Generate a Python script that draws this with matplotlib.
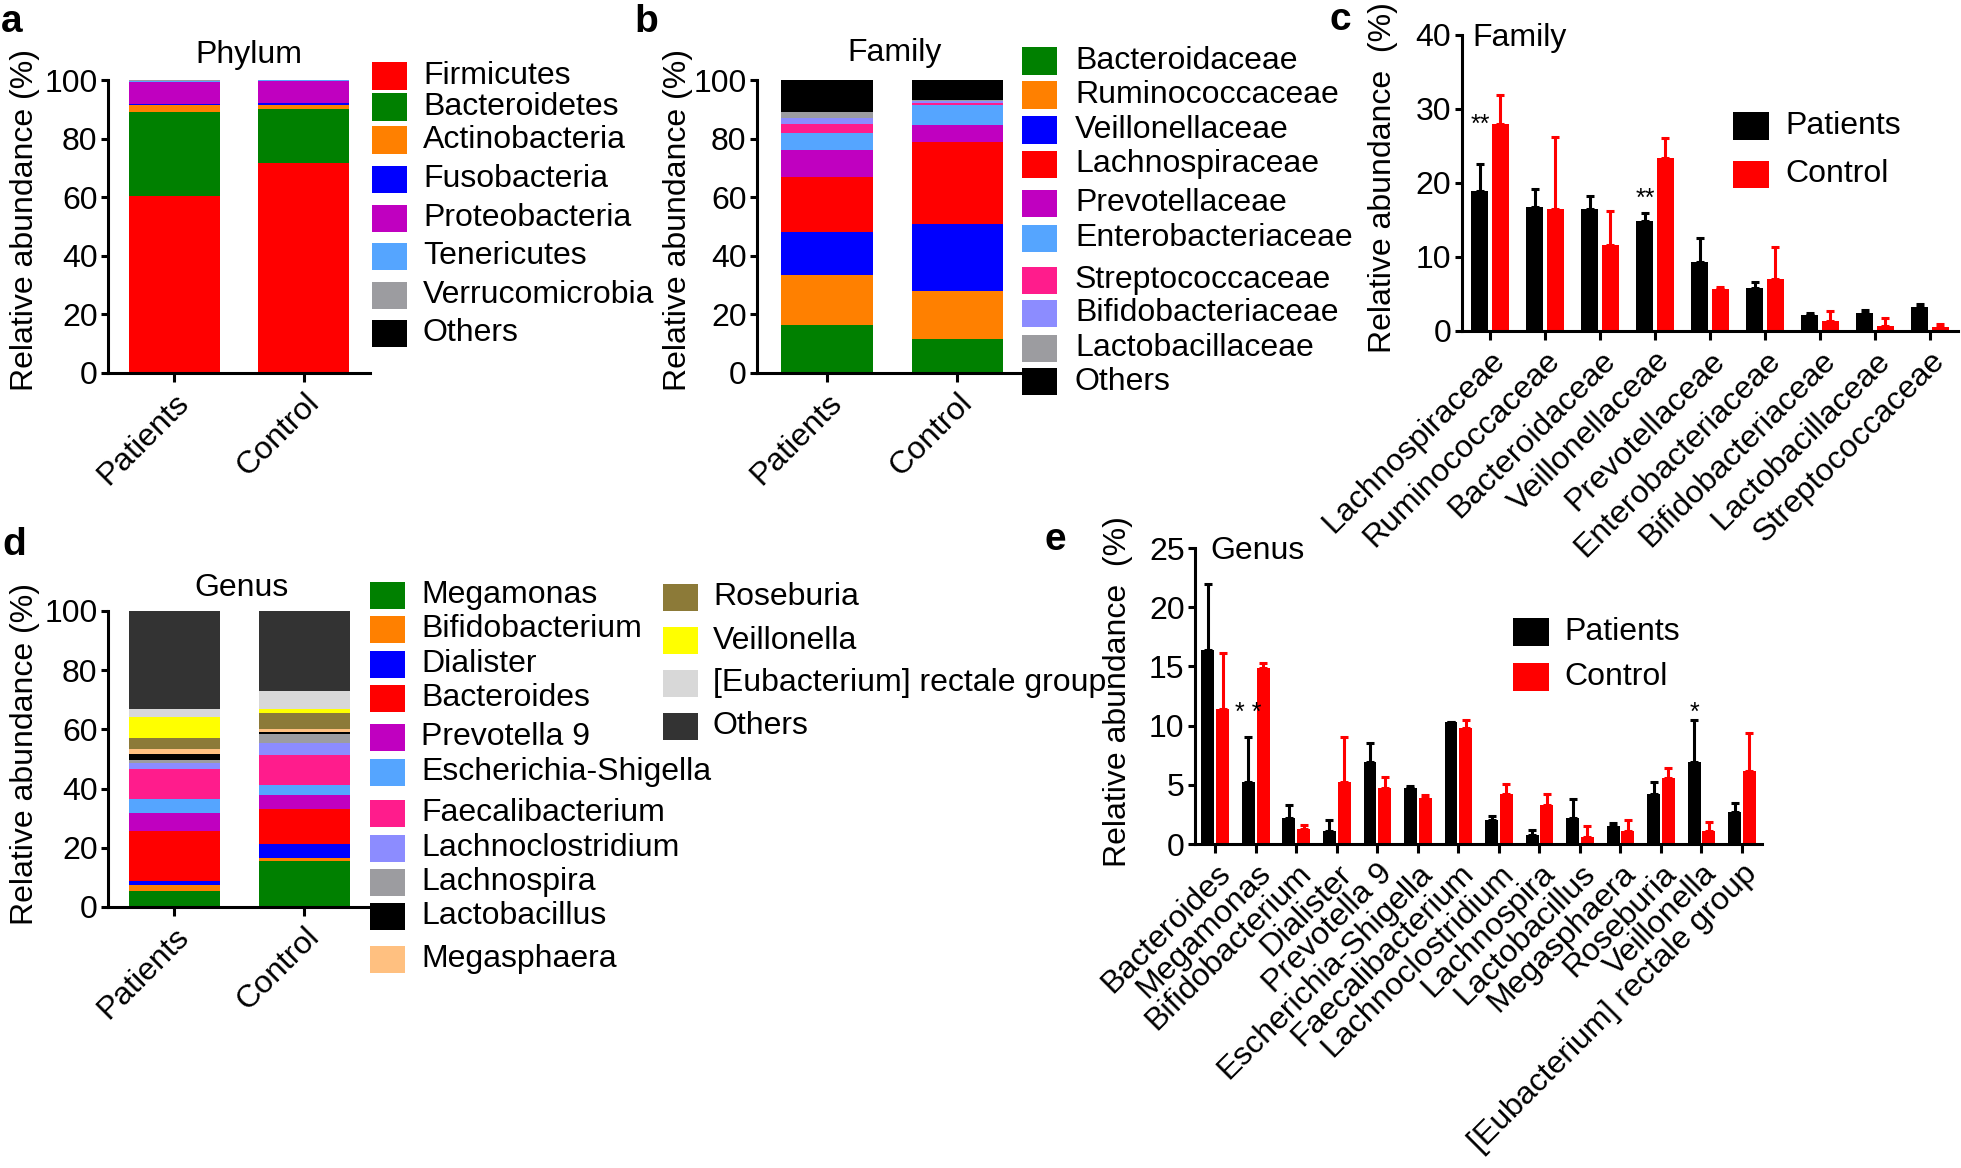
import numpy as np
import matplotlib
matplotlib.use("Agg")
import matplotlib.pyplot as plt
from matplotlib.patches import Rectangle

plt.rcParams['font.family'] = ['Liberation Sans', 'DejaVu Sans']

W, H = 1961, 1168

# ---------------- data ----------------
groups = ["Patients", "Control"]

phylum_names = ["Firmicutes", "Bacteroidetes", "Actinobacteria", "Fusobacteria",
                "Proteobacteria", "Tenericutes", "Verrucomicrobia", "Others"]
phylum_patients = [60.5, 28.5, 2.3, 0.5, 7.6, 0.4, 0.1, 0.1]
phylum_control = [71.8, 18.2, 1.6, 0.5, 7.7, 0.1, 0.05, 0.05]
phylum_colors = ["#FF0000", "#008000", "#FF8000", "#0000FF",
                 "#C000C0", "#55A5FF", "#9C9CA0", "#000000"]

family_names = ["Bacteroidaceae", "Ruminococcaceae", "Veillonellaceae", "Lachnospiraceae",
                "Prevotellaceae", "Enterobacteriaceae", "Streptococcaceae",
                "Bifidobacteriaceae", "Lactobacillaceae", "Others"]
family_patients = [16.5, 17.0, 14.5, 19.0, 9.0, 6.0, 3.0, 2.0, 2.0, 11.0]
family_control = [11.5, 16.5, 23.0, 28.0, 5.5, 7.0, 0.5, 0.7, 0.6, 6.7]
family_colors = ["#008000", "#FF8000", "#0000FF", "#FF0000", "#C000C0",
                 "#55A5FF", "#FF1C8C", "#8C8CFF", "#9C9CA0", "#000000"]

fam_cats = ["Lachnospiraceae", "Ruminococcaceae", "Bacteroidaceae", "Veillonellaceae",
            "Prevotellaceae", "Enterobacteriaceae", "Bifidobacteriaceae",
            "Lactobacillaceae", "Streptococcaceae"]
fam_pat_mean = [18.9, 16.8, 16.5, 14.9, 9.3, 5.8, 2.2, 2.4, 3.3]
fam_pat_err = [3.7, 2.4, 1.7, 1.1, 3.2, 0.8, 0.2, 0.4, 0.4]
fam_con_mean = [27.9, 16.5, 11.6, 23.4, 5.7, 7.0, 1.3, 0.7, 0.5]
fam_con_err = [4.0, 9.7, 4.6, 2.7, 0.3, 4.4, 1.4, 1.0, 0.5]
fam_sig = ["**", "", "", "**", "", "", "", "", ""]
fam_sig_y = [27.8, 0, 0, 17.8, 0, 0, 0, 0, 0]

genus_names = ["Megamonas", "Bifidobacterium", "Dialister", "Bacteroides", "Prevotella 9",
               "Escherichia-Shigella", "Faecalibacterium", "Lachnoclostridium",
               "Lachnospira", "Lactobacillus", "Megasphaera", "Roseburia",
               "Veillonella", "[Eubacterium] rectale group", "Others"]
genus_patients = [5.5, 2.0, 1.4, 16.7, 6.2, 4.8, 10.1, 2.1, 1.0, 2.0, 1.6, 3.8, 7.0, 2.6, 33.2]
genus_control = [15.5, 1.1, 4.8, 11.7, 4.6, 3.6, 9.9, 4.1, 3.0, 0.7, 1.0, 5.5, 1.3, 6.1, 27.1]
genus_colors = ["#008000", "#FF8000", "#0000FF", "#FF0000", "#C000C0", "#55A5FF",
                "#FF1C8C", "#8C8CFF", "#9C9CA0", "#000000", "#FFC080", "#8C7A38",
                "#FFFF00", "#D8D8D8", "#333333"]

gen_cats = ["Bacteroides", "Megamonas", "Bifidobacterium", "Dialister", "Prevotella 9",
            "Escherichia-Shigella", "Faecalibacterium", "Lachnoclostridium", "Lachnospira",
            "Lactobacillus", "Megasphaera", "Roseburia", "Veillonella",
            "[Eubacterium] rectale group"]
gen_pat_mean = [16.4, 5.2, 2.2, 1.1, 6.9, 4.7, 10.3, 2.05, 0.75, 2.2, 1.5, 4.2, 6.9, 2.7]
gen_pat_err = [5.6, 3.8, 1.1, 0.9, 1.6, 0.2, 0.0, 0.35, 0.45, 1.6, 0.3, 1.0, 3.6, 0.8]
gen_con_mean = [11.4, 14.9, 1.3, 5.2, 4.7, 3.9, 9.8, 4.2, 3.3, 0.6, 1.1, 5.6, 1.1, 6.2]
gen_con_err = [4.7, 0.4, 0.3, 3.8, 1.0, 0.2, 0.7, 0.9, 0.9, 0.9, 0.9, 0.8, 0.8, 3.2]
gen_sig = ["", "* *", "", "", "", "", "", "", "", "", "", "", "*", ""]
gen_sig_y = [0, 11.1, 0, 0, 0, 0, 0, 0, 0, 0, 0, 0, 11.1, 0]

# ---------------- figure ----------------
fig = plt.figure(figsize=(W / 100, H / 100), dpi=100)
FS = 23
LW = 2.2


def add_ax(left, right, top, bottom):
    ax = fig.add_axes([left / W, 1 - bottom / H, (right - left) / W, (bottom - top) / H])
    ax.patch.set_alpha(0)
    return ax


def ftext(x, y, s, **kw):
    kw.setdefault('fontsize', FS)
    return fig.text(x / W, 1 - y / H, s, **kw)


def style(ax):
    for side in ('top', 'right'):
        ax.spines[side].set_visible(False)
    for side in ('left', 'bottom'):
        ax.spines[side].set_linewidth(LW)
    ax.tick_params(axis='x', direction='out', length=6.5, width=LW, labelsize=FS, pad=4)
    ax.tick_params(axis='y', direction='out', length=5, width=LW, labelsize=FS, pad=2.5)


def legend(x_patch, x_text, ys, labels, colors, pw=35, ph=27):
    for y, lab, col in zip(ys, labels, colors):
        fig.patches.append(Rectangle((x_patch / W, 1 - (y + ph / 2) / H), pw / W, ph / H,
                                     transform=fig.transFigure, facecolor=col,
                                     edgecolor='none', figure=fig))
        ftext(x_text, y, lab, ha='left', va='center')


def stacked(ax, names, pat, con, colors, xlim):
    x = np.arange(len(groups))
    bottom = np.zeros(len(groups))
    for name, p, c, col in zip(names, pat, con, colors):
        vals = np.array([p, c])
        ax.bar(x, vals, bottom=bottom, width=0.7, color=col, edgecolor='none', label=name)
        bottom += vals
    ax.set_xlim(*xlim)
    ax.set_ylim(0, 100)
    ax.set_yticks([0, 20, 40, 60, 80, 100])
    ax.set_xticks(x)
    ax.set_xticklabels(groups, rotation=45, ha='right', rotation_mode='anchor')
    style(ax)


def grouped(ax, cats, pm, pe, cm, ce, sig, sig_y, ymax, yticks, xlim, w, off):
    x = np.arange(len(cats))
    pm, pe, cm, ce = map(np.array, (pm, pe, cm, ce))
    ax.bar(x - off, pm, w, color='black', edgecolor='none', label='Patients')
    ax.bar(x + off, cm, w, color='#FF0000', edgecolor='none', label='Control')
    ax.errorbar(x - off, pm, yerr=[np.zeros_like(pe), pe], fmt='none', ecolor='black',
                elinewidth=LW, capsize=3, capthick=LW)
    ax.errorbar(x + off, cm, yerr=[np.zeros_like(ce), ce], fmt='none', ecolor='#FF0000',
                elinewidth=LW, capsize=3, capthick=LW)
    for xi, s, sy in zip(x, sig, sig_y):
        if s:
            ax.text(xi - off, sy, s, ha='center', va='center', fontsize=18)
    ax.set_xlim(*xlim)
    ax.set_ylim(0, ymax)
    ax.set_yticks(yticks)
    ax.set_xticks(x)
    ax.set_xticklabels(cats, rotation=45, ha='right', rotation_mode='anchor')
    style(ax)


# ---- panel a ----
ax_a = add_ax(108, 370, 80, 373)
stacked(ax_a, phylum_names, phylum_patients, phylum_control, phylum_colors, (-0.508, 1.508))
ftext(249, 55, "Phylum", ha='center', va='center')
ftext(25, 220, "Relative abundance (%)", rotation=90, ha='center', va='center')
legend(372, 423, [76, 107, 140, 179, 218, 256, 295, 333], phylum_names, phylum_colors)
ftext(12, 22, "a", fontsize=28, fontweight='bold', ha='center', va='center')

# ---- panel b ----
ax_b = add_ax(757, 1019.5, 80, 373)
stacked(ax_b, family_names, family_patients, family_control, family_colors, (-0.538, 1.48))
ftext(895, 53, "Family", ha='center', va='center')
ftext(678, 220, "Relative abundance (%)", rotation=90, ha='center', va='center')
legend(1022, 1075, [61, 95, 130, 164, 203, 238, 280, 313, 348, 382], family_names, family_colors)
ftext(646, 22, "b", fontsize=28, fontweight='bold', ha='center', va='center')

# ---- panel c ----
ax_c = add_ax(1461.5, 1958, 34.8, 331)
grouped(ax_c, fam_cats, fam_pat_mean, fam_pat_err, fam_con_mean, fam_con_err,
        fam_sig, fam_sig_y, 40, [0, 10, 20, 30, 40], (-0.52, 8.51), 0.31, 0.185)
ftext(1472, 38, "Family", ha='left', va='center')
ftext(1383, 178, "Relative abundance  (%)", rotation=90, ha='center', va='center')
legend(1733, 1785, [126, 174], ["Patients", "Control"], ["#000000", "#FF0000"], pw=36, ph=27)
ftext(1340, 20, "c", fontsize=28, fontweight='bold', ha='center', va='center')

# ---- panel d ----
ax_d = add_ax(108, 368, 611, 907)
stacked(ax_d, genus_names, genus_patients, genus_control, genus_colors, (-0.508, 1.49))
ftext(241, 588, "Genus", ha='center', va='center')
ftext(25, 754, "Relative abundance (%)", rotation=90, ha='center', va='center')
legend(370, 421, [595, 629, 664, 698, 737, 772, 813, 848, 882, 916, 959],
       genus_names[:11], genus_colors[:11])
legend(663, 713, [597, 641, 683, 726], genus_names[11:], genus_colors[11:])
ftext(14, 545, "d", fontsize=28, fontweight='bold', ha='center', va='center')

# ---- panel e ----
ax_e = add_ax(1195, 1761.7, 548, 844)
grouped(ax_e, gen_cats, gen_pat_mean, gen_pat_err, gen_con_mean, gen_con_err,
        gen_sig, gen_sig_y, 25, [0, 5, 10, 15, 20, 25], (-0.5, 13.49), 0.32, 0.18)
ftext(1210, 551, "Genus", ha='left', va='center')
ftext(1118, 692, "Relative abundance  (%)", rotation=90, ha='center', va='center')
legend(1513, 1564, [632, 677], ["Patients", "Control"], ["#000000", "#FF0000"], pw=36, ph=28)
ftext(1055, 540, "e", fontsize=28, fontweight='bold', ha='center', va='center')

fig.savefig("out.png", dpi=100)
